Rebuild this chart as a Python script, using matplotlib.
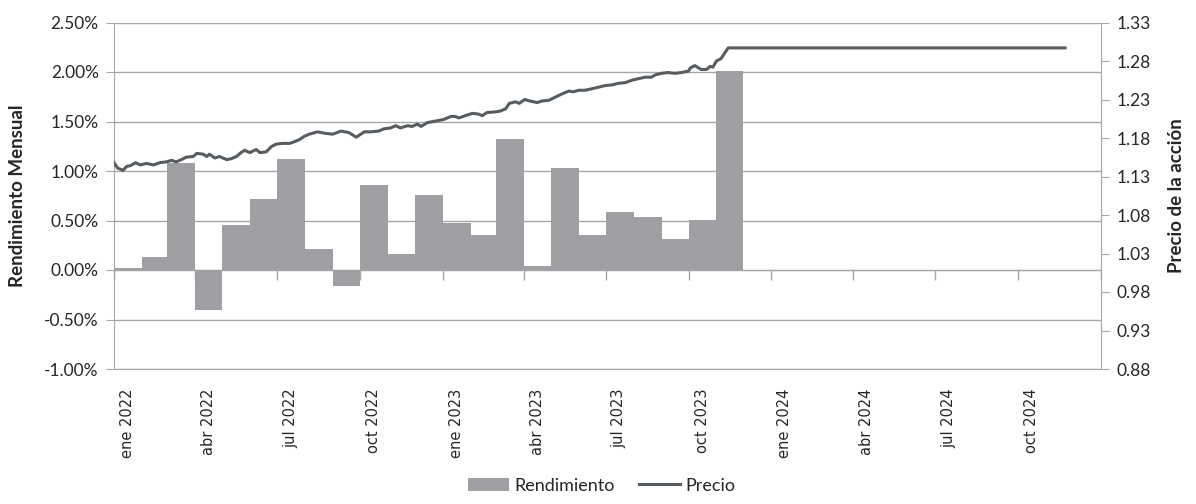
import matplotlib

matplotlib.use("Agg")
import matplotlib.pyplot as plt
import matplotlib.dates as mdates
import pandas as pd
from matplotlib.ticker import FuncFormatter

plt.rcParams["font.family"] = ["Lato", "DejaVu Sans"]

# --- datos ---
# rendimiento mensual (%), ene 2022 .. nov 2023
meses_rend = pd.date_range("2022-01-01", periods=23, freq="MS")
rendimiento = [0.02, 0.13, 1.08, -0.40, 0.45, 0.72, 1.12, 0.21, -0.16, 0.86, 0.16, 0.76,
               0.47, 0.35, 1.32, 0.04, 1.03, 0.35, 0.59, 0.54, 0.31, 0.51, 2.01]

# precio de la acción: días desde el 1 ene 2022 y valor
dias_precio = [0, 4, 10, 14, 18, 24, 29, 36, 44, 51,
               58, 64, 69, 75, 80, 88, 92, 99, 103, 106,
               112, 117, 125, 130, 136, 141, 145, 151, 154, 158,
               162, 169, 175, 180, 187, 195, 200, 206, 211, 217,
               226, 235, 243, 252, 261, 269, 278, 285, 294, 300,
               307, 313, 318, 326, 331, 337, 341, 348, 357, 366,
               374, 379, 383, 390, 398, 405, 409, 414, 424, 429,
               435, 439, 446, 450, 456, 462, 470, 475, 483, 490,
               497, 505, 510, 516, 523, 531, 538, 545, 553, 560,
               568, 575, 582, 590, 597, 601, 608, 615, 623, 630,
               638, 640, 645, 652, 658, 662, 665, 669, 674, 678,
               682, 1056]
precio = [1.148, 1.141, 1.138, 1.143, 1.144, 1.148, 1.145, 1.147, 1.145, 1.148,
          1.149, 1.151, 1.149, 1.152, 1.155, 1.156, 1.160, 1.159, 1.156, 1.159,
          1.154, 1.156, 1.152, 1.153, 1.156, 1.161, 1.164, 1.161, 1.163, 1.165,
          1.161, 1.162, 1.169, 1.172, 1.173, 1.173, 1.175, 1.178, 1.182, 1.185,
          1.188, 1.186, 1.185, 1.189, 1.187, 1.181, 1.188, 1.188, 1.189, 1.192,
          1.193, 1.196, 1.193, 1.196, 1.195, 1.198, 1.195, 1.200, 1.202, 1.204,
          1.208, 1.208, 1.206, 1.209, 1.212, 1.211, 1.209, 1.213, 1.214, 1.215,
          1.218, 1.225, 1.227, 1.225, 1.230, 1.228, 1.226, 1.228, 1.229, 1.233,
          1.237, 1.241, 1.240, 1.242, 1.242, 1.244, 1.246, 1.248, 1.249, 1.251,
          1.252, 1.255, 1.257, 1.259, 1.259, 1.262, 1.264, 1.265, 1.264, 1.265,
          1.267, 1.271, 1.274, 1.269, 1.269, 1.273, 1.272, 1.280, 1.283, 1.290,
          1.297, 1.297]
fechas_precio = pd.Timestamp("2022-01-01") + pd.to_timedelta(dias_precio, unit="D")

meses_es = {1: "ene", 4: "abr", 7: "jul", 10: "oct"}
trimestres = pd.date_range("2022-01-01", "2025-01-01", freq="QS")
ticks_izq = [-1.0, -0.5, 0.0, 0.5, 1.0, 1.5, 2.0, 2.5]
ticks_der = [0.88, 0.93, 0.98, 1.03, 1.08, 1.13, 1.18, 1.23, 1.28, 1.33]

GRIS_BARRA = "#9d9fa2"
GRIS_LINEA = "#575c60"
GRIS_EJE = "#a6a6a6"
TEXTO = "#262626"

fig = plt.figure(figsize=(11.96, 5.04), dpi=100)
ax = fig.add_axes([114 / 1196, 1 - 369 / 504, 987 / 1196, (369 - 22.5) / 504])

ax.bar(meses_rend, rendimiento, width=meses_rend.days_in_month, align="edge",
       color=GRIS_BARRA, edgecolor="none", label="Rendimiento", zorder=2)
ax.set_ylim(-1.0, 2.5)
ax.set_yticks(ticks_izq)
ax.yaxis.set_major_formatter(FuncFormatter(lambda v, p: f"{v:.2f}%"))
ax.set_xlim(trimestres[0], trimestres[-1])
ax.yaxis.grid(True, color=GRIS_EJE, lw=1)
ax.set_axisbelow(True)

# etiquetas del eje x centradas en el mes
pos_etq = trimestres[:-1] + pd.Timedelta(days=15)
ax.set_xticks(pos_etq)
ax.set_xticklabels([f"{meses_es[d.month]} {d.year}" for d in trimestres[:-1]],
                   rotation=90, family="DejaVu Sans", fontsize=10.5, color=TEXTO)
ax.tick_params(axis="x", length=0, pad=14)
ax.tick_params(axis="y", length=6, color=GRIS_EJE, labelsize=12.5, labelcolor=TEXTO, pad=5)
for s in ("top", "right"):
    ax.spines[s].set_visible(False)
for s in ("left", "bottom"):
    ax.spines[s].set_color(GRIS_EJE)

# eje de categorías cruzando en 0 %
sec = ax.secondary_xaxis(1.0 / 3.5)
sec.set_xticks(mdates.date2num(trimestres))
sec.tick_params(axis="x", length=7, width=1, color=GRIS_EJE, labelbottom=False)
sec.spines["bottom"].set_color(GRIS_EJE)

ax2 = ax.twinx()
ax2.plot(fechas_precio, precio, color=GRIS_LINEA, lw=2.2, label="Precio", zorder=3)
ax2.set_ylim(0.88, 1.33)
ax2.set_yticks(ticks_der)
ax2.yaxis.set_major_formatter(FuncFormatter(lambda v, p: f"{v:.2f}"))
ax2.tick_params(axis="y", length=6, color=GRIS_EJE, labelsize=12.5, labelcolor=TEXTO, pad=5)
for s in ("top", "left", "bottom"):
    ax2.spines[s].set_visible(False)
ax2.spines["right"].set_color(GRIS_EJE)

fig.text(18 / 1196, 1 - 196 / 504, "Rendimiento Mensual", rotation=90, ha="center",
         va="center", fontsize=13.5, fontweight="bold", color=TEXTO)
fig.text(1177 / 1196, 1 - 196 / 504, "Precio de la acción", rotation=90, ha="center",
         va="center", fontsize=13.5, fontweight="bold", color=TEXTO)

h1, l1 = ax.get_legend_handles_labels()
h2, l2 = ax2.get_legend_handles_labels()
fig.legend(h1 + h2, l1 + l2, loc="lower center", bbox_to_anchor=(0.503, -0.012), ncol=2,
           frameon=False, fontsize=13, handlelength=2.3, handleheight=0.75,
           handletextpad=0.3, columnspacing=1.3, labelcolor=TEXTO)

fig.savefig("out.png", dpi=100)
